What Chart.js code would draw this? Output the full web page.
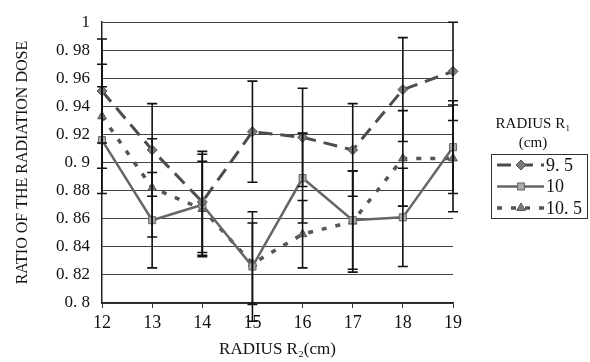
<!DOCTYPE html>
<html>
<head>
<meta charset="utf-8">
<script src="https://cdn.jsdelivr.net/npm/chart.js@4.4.1/dist/chart.umd.min.js"></script>
<style>
  html, body { margin: 0; padding: 0; background: #fff; }
  #wrap { width: 590px; height: 362px; }
</style>
</head>
<body>
<div id="wrap"><canvas id="doseChart" width="590" height="362"></canvas></div>
<script>
/* ===== data ===== */
const radiusR2 = ['12', '13', '14', '15', '16', '17', '18', '19'];
const seriesNames = ['9. 5', '10', '10. 5'];

const dose95  = [0.951, 0.909, 0.872, 0.922, 0.918, 0.909, 0.952, 0.965];
const dose10  = [0.916, 0.859, 0.870, 0.826, 0.889, 0.859, 0.861, 0.911];
const dose105 = [0.933, 0.882, 0.867, 0.828, 0.849, 0.858, 0.903, 0.903];

// +/- error (same unit as dose)
const err95  = [0.037, 0.033, 0.036, 0.036, 0.035, 0.033, 0.037, 0.035];
const err10  = [0.038, 0.034, 0.036, 0.039, 0.032, 0.035, 0.035, 0.033];
const err105 = [0.037, 0.035, 0.034, 0.029, 0.024, 0.036, 0.034, 0.038];

const yTickValues = [0.8, 0.82, 0.84, 0.86, 0.88, 0.9, 0.92, 0.94, 0.96, 0.98, 1];
const yTickLabels = ['0. 8', '0. 82', '0. 84', '0. 86', '0. 88', '0. 9', '0. 92', '0. 94', '0. 96', '0. 98', '1'];

const yTitle = 'RATIO OF THE RADIATION DOSE';
const xTitle = 'RADIUS R\u2082(cm)';
const legendTitle = ['RADIUS R\u2081', '(cm)'];

const errors = [err95, err10, err105];

/* ===== plugins ===== */
const errorBars = {
  id: 'errorBars',
  afterDatasetsDraw(chart) {
    const { ctx, scales: { x, y } } = chart;
    ctx.save();
    ctx.strokeStyle = '#111';
    ctx.lineWidth = 1.6;
    chart.data.datasets.forEach((ds, i) => {
      ds.data.forEach((v, j) => {
        const e = errors[i][j];
        const px = x.getPixelForValue(j);
        const top = y.getPixelForValue(v + e);
        const bot = y.getPixelForValue(v - e);
        ctx.beginPath();
        ctx.moveTo(px, top); ctx.lineTo(px, bot);
        ctx.moveTo(px - 5, top); ctx.lineTo(px + 5, top);
        ctx.moveTo(px - 5, bot); ctx.lineTo(px + 5, bot);
        ctx.stroke();
      });
    });
    ctx.restore();
  }
};

const boxLegend = {
  id: 'boxLegend',
  afterDraw(chart) {
    const ctx = chart.ctx;
    ctx.save();
    ctx.fillStyle = '#111';
    ctx.textAlign = 'center';
    ctx.textBaseline = 'middle';
    ctx.font = '15px "Liberation Serif"';
    ctx.fillText(legendTitle[0], 533, 124);
    ctx.fillText(legendTitle[1], 533, 143);

    ctx.strokeStyle = '#333';
    ctx.lineWidth = 1;
    ctx.strokeRect(491.5, 154.5, 96, 64);

    chart.data.datasets.forEach((ds, i) => {
      const yy = 165 + i * 21.5;
      ctx.save();
      ctx.strokeStyle = ds.borderColor;
      ctx.lineWidth = ds.borderWidth;
      ctx.setLineDash(ds.borderDash || []);
      ctx.beginPath();
      ctx.moveTo(497, yy); ctx.lineTo(544, yy);
      ctx.stroke();
      ctx.restore();
      ctx.fillStyle = ds.pointBackgroundColor;
      ctx.strokeStyle = ds.pointBorderColor;
      ctx.lineWidth = 1;
      Chart.helpers.drawPoint(ctx, {
        pointStyle: ds.pointStyle, radius: ds.pointRadius, borderWidth: 1
      }, 521, yy);
      ctx.fillStyle = '#111';
      ctx.textAlign = 'left';
      ctx.font = '18px "Liberation Serif"';
      ctx.fillText(seriesNames[i], 546, yy + 1);
    });
    ctx.restore();
  }
};

/* ===== chart ===== */
const ctx = document.getElementById('doseChart').getContext('2d');
new Chart(ctx, {
  type: 'line',
  data: {
    labels: radiusR2,
    datasets: [
      {
        label: seriesNames[0], data: dose95,
        borderColor: '#4d4d4d', borderWidth: 3, borderDash: [14, 8],
        pointStyle: 'rectRot', pointRadius: 5,
        pointBackgroundColor: '#7a7a7a', pointBorderColor: '#555', pointBorderWidth: 1,
        tension: 0
      },
      {
        label: seriesNames[1], data: dose10,
        borderColor: '#666', borderWidth: 2.5,
        pointStyle: 'rect', pointRadius: 5,
        pointBackgroundColor: '#aaa', pointBorderColor: '#666', pointBorderWidth: 1,
        tension: 0
      },
      {
        label: seriesNames[2], data: dose105,
        borderColor: '#555', borderWidth: 3.5, borderDash: [5, 9],
        pointStyle: 'triangle', pointRadius: 5,
        pointBackgroundColor: '#7a7a7a', pointBorderColor: '#555', pointBorderWidth: 1,
        tension: 0
      }
    ]
  },
  options: {
    responsive: false,
    animation: false,
    layout: { padding: { top: 14, right: 137, left: 0, bottom: 0 } },
    plugins: { legend: { display: false }, tooltip: { enabled: false } },
    scales: {
      x: {
        type: 'category',
        offset: false,
        grid: { drawOnChartArea: false, color: 'rgba(0,0,0,0)', tickColor: '#333', tickLength: 5, drawTicks: true },
        border: { display: true, color: '#222', width: 1.5 },
        ticks: { color: '#111', font: { family: 'Liberation Serif', size: 18 }, padding: 4, maxRotation: 0 },
        title: { display: true, text: xTitle, color: '#111', font: { family: 'Liberation Serif', size: 17 }, padding: { top: 2, bottom: 2 } },
        afterFit: s => { s.height = 59; }
      },
      y: {
        min: 0.8, max: 1,
        afterBuildTicks: s => { s.ticks = yTickValues.map(v => ({ value: v })); },
        grid: { color: '#444', lineWidth: 1, drawTicks: false },
        border: { display: true, color: '#222', width: 1.5 },
        ticks: {
          color: '#111', font: { family: 'Liberation Serif', size: 17 }, padding: 12,
          callback: (v, i) => yTickLabels[i]
        },
        title: { display: true, text: yTitle, color: '#111', font: { family: 'Liberation Serif', size: 16 }, padding: { top: 13, bottom: 4 } },
        afterFit: s => { s.width = 102; }
      }
    }
  },
  plugins: [errorBars, boxLegend]
});
</script>
</body>
</html>
